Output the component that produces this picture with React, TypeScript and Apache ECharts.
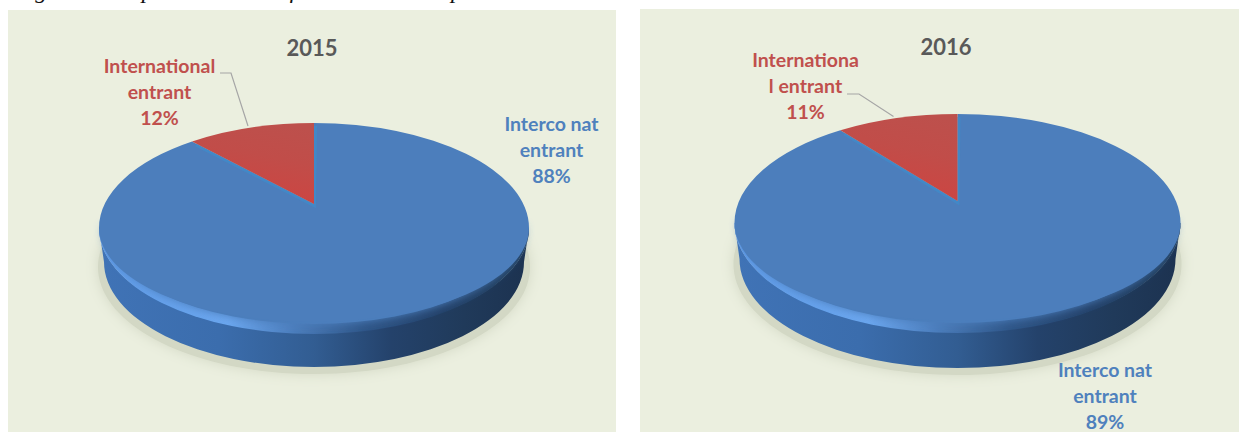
import React, { useEffect, useRef } from "react";
import * as echarts from "echarts";

// Data
const years = ["2015", "2016"];
const labels2015 = ["Interco nat\nentrant", "International\nentrant"];
const labels2016 = ["Interco nat\nentrant", "Internationa\nl entrant"];
const values2015 = [88, 12];
const values2016 = [89, 11];
const caption = "Figure 4 : Répartition du trafic international par destination";

// Layout
const layout2015 = {
  cx: 314, cy: 228, rx: 215, ry: 105, depth: 34, apexY: 204,
  labels: [[551.5, 149.5], [159.5, 91.5]],
  leader: [[220, 73], [231, 73], [248, 126]],
  titleX: 312, titleY: 36,
};
const layout2016 = {
  cx: 957.5, cy: 223, rx: 223, ry: 109, depth: 36, apexY: 201,
  labels: [[1105, 395.5], [805.5, 85.5]],
  leader: [[847, 94], [859, 94], [893.5, 116.5]],
  titleX: 946, titleY: 35,
};
const PERSPECTIVE = 0.8; // the drawn slice is foreshortened by the view
const BLUE = "#4c7ebc";
const BLUE_TEXT = "#4f81bd";
const RED_TEXT = "#c0504d";
const FONT = "Lato";
const LG = echarts.graphic.LinearGradient;

function pieSeries(values: number[], names: string[], g: typeof layout2015) {
  return {
    type: "custom",
    coordinateSystem: "none",
    silent: true,
    z: 3,
    data: values.map((v, i) => ({ value: [v], name: names[i] })),
    renderItem: (params: any, api: any) => {
      const i = params.dataIndex;
      const value = api.value(0);
      const { cx, cy, rx, ry, depth, apexY } = g;
      const smallShare = values[1];
      const theta = ((smallShare / 100) * 360 * PERSPECTIVE * Math.PI) / 180;
      const topY = cy - ry;
      const edgeX = cx - rx * Math.sin(theta);
      const edgeY = cy - ry * Math.cos(theta);
      const children: any[] = [];
      const text = `${names[i]}\n${value}%`;

      if (i === 0) {
        // ground shadow
        children.push({
          type: "ellipse",
          shape: { cx, cy: cy + depth + 5, rx: rx + 1, ry: ry + 2 },
          style: { fill: "#d3d8c5", shadowBlur: 13, shadowColor: "#d3d8c5" },
        });
        // side wall
        children.push({
          type: "path",
          shape: {
            pathData: `M${cx - rx} ${cy}A${rx} ${ry} 0 0 0 ${cx + rx} ${cy}L${cx + rx - 5} ${cy + depth}A${rx - 5} ${ry} 0 0 1 ${cx - rx + 5} ${cy + depth}Z`,
          },
          style: {
            fill: new LG(0, 0, 1, 0, [
              { offset: 0, color: "#4073b6" },
              { offset: 0.28, color: "#3b6dad" },
              { offset: 0.5, color: "#325d92" },
              { offset: 0.68, color: "#24426b" },
              { offset: 0.85, color: "#203a5a" },
              { offset: 1, color: "#1c3250" },
            ]),
          },
        });
        // lit rim below the top face
        children.push({
          type: "path",
          shape: {
            pathData: `M${cx - rx} ${cy}A${rx} ${ry + 1} 0 0 0 ${cx + rx} ${cy}Z`,
          },
          style: {
            fill: new LG(0, 0, 1, 0, [
              { offset: 0, color: "#5e9ae6" },
              { offset: 0.3, color: "#6ba6ee" },
              { offset: 0.45, color: "#4c7ebd" },
              { offset: 0.62, color: "#2f5688" },
              { offset: 0.8, color: "#24426a" },
              { offset: 1, color: "#22405f" },
            ]),
          },
        });
        // soft lower part of the face
        children.push({
          type: "path",
          shape: {
            pathData: `M${cx - rx + 4} ${cy - 2}A${rx - 4} ${ry - 7} 0 0 0 ${cx + rx - 4} ${cy - 2}Z`,
          },
          style: { fill: BLUE, shadowBlur: 8, shadowColor: BLUE },
        });
        // blue slice: crisp along the upper edge, inset along the lower one
        children.push({
          type: "path",
          shape: {
            pathData: `M${cx} ${apexY}L${edgeX} ${edgeY}A${rx} ${ry} 0 0 0 ${cx - rx} ${cy}A${rx} ${ry - 11} 0 0 0 ${cx + rx} ${cy}A${rx} ${ry} 0 0 0 ${cx} ${topY}Z`,
          },
          style: { fill: BLUE },
        });
      } else {
        children.push({
          type: "polyline",
          shape: { points: [[edgeX + 4, edgeY + 3], [cx, apexY + 1], [cx + 1, topY + 3]] },
          style: { stroke: "#3a8fd0", lineWidth: 4, opacity: 0.55, fill: "none" },
        });
        children.push({
          type: "path",
          shape: {
            pathData: `M${cx} ${apexY}L${edgeX} ${edgeY}A${rx} ${ry} 0 0 1 ${cx} ${topY}Z`,
          },
          style: {
            fill: new LG(0.4, 1, 0.7, 0, [
              { offset: 0, color: "#cf4340" },
              { offset: 0.6, color: "#c14d49" },
              { offset: 1, color: "#bd504c" },
            ]),
          },
        });
        children.push({
          type: "polyline",
          shape: { points: g.leader },
          style: { stroke: "#a6a6a6", lineWidth: 1.2, fill: "none" },
        });
      }
      children.push({
        type: "text",
        x: g.labels[i][0],
        y: g.labels[i][1],
        z2: 10,
        style: {
          text,
          fill: i === 0 ? BLUE_TEXT : RED_TEXT,
          fontFamily: FONT,
          fontWeight: "bold",
          fontSize: 19.5,
          lineHeight: 26,
          align: "center",
          verticalAlign: "middle",
        },
      });
      return { type: "group", children };
    },
  };
}

export default function App() {
  const ref = useRef<HTMLDivElement>(null);
  useEffect(() => {
    const chart = echarts.init(ref.current!, null, { renderer: "svg" });
    chart.setOption({
      animation: false,
      backgroundColor: "#ffffff",
      title: [
        { text: years[0], left: layout2015.titleX, top: layout2015.titleY, textAlign: "center", padding: 0,
          textStyle: { color: "#595959", fontFamily: FONT, fontWeight: "bold", fontSize: 22 } },
        { text: years[1], left: layout2016.titleX, top: layout2016.titleY, textAlign: "center", padding: 0,
          textStyle: { color: "#595959", fontFamily: FONT, fontWeight: "bold", fontSize: 22 } },
      ],
      graphic: [
        { type: "rect", z: 0, shape: { x: 8, y: 10, width: 608, height: 422 }, style: { fill: "#ebefdf" } },
        { type: "rect", z: 0, shape: { x: 640, y: 9, width: 599, height: 423 }, style: { fill: "#ebefdf" } },
        { type: "text", z: 1, x: 14, y: 2,
          style: { text: caption, fill: "#111111", fontFamily: "Liberation Serif", fontStyle: "italic", fontSize: 24, verticalAlign: "bottom", align: "left" } },
      ],
      series: [pieSeries(values2015, labels2015, layout2015), pieSeries(values2016, labels2016, layout2016)],
    });
    return () => chart.dispose();
  }, []);
  return <div ref={ref} style={{ position: "fixed", left: 0, top: 0, width: 1239, height: 432 }} />;
}
